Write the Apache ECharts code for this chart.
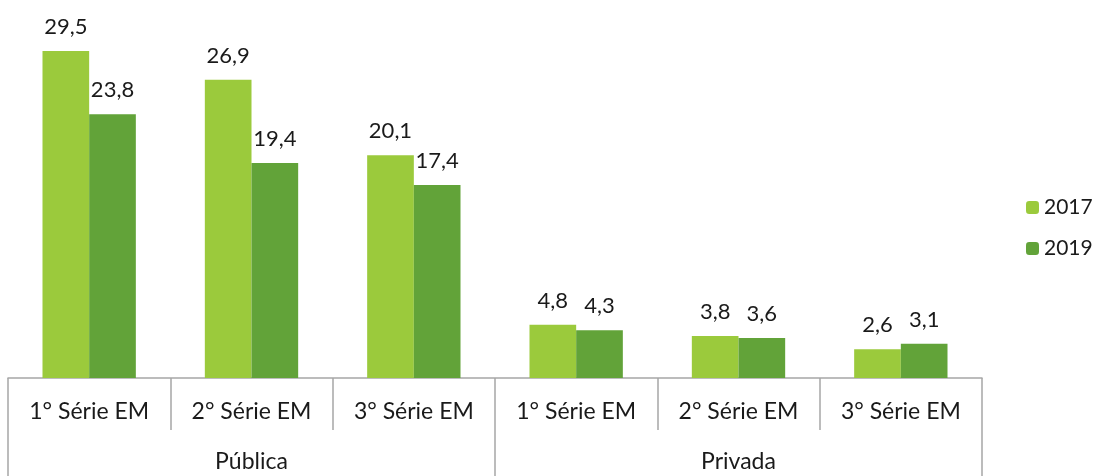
<!DOCTYPE html>
<html>
<head>
<meta charset="utf-8">
<script src="https://cdn.jsdelivr.net/npm/echarts@6/dist/echarts.min.js"></script>
<style>
  html, body { margin: 0; padding: 0; background: #fff; }
  #main { width: 1095px; height: 476px; }
</style>
</head>
<body>
<div id="main"></div>
<script>
// dados
var series = ['1° Série EM', '2° Série EM', '3° Série EM', '1° Série EM ', '2° Série EM ', '3° Série EM ']
var redes = ['Pública', 'Privada']
var v2017 = [29.5, 26.9, 20.1, 4.8, 3.8, 2.6]
var v2019 = [23.8, 19.4, 17.4, 4.3, 3.6, 3.1]

var fonte = 'Lato, "Open Sans", sans-serif'
var cinza = '#a6a6a6'
var texto = '#1a1a1a'

var labelOption = {
  show: true,
  position: 'top',
  distance: 13,
  fontFamily: fonte,
  fontSize: 22,
  color: texto,
  formatter: function(p) {
    return String(p.value).replace('.', ',')
  }
}

const myChart = echarts.init(document.getElementById('main'))
const option = {
  animation: false,
  legend: {
    data: ['2017', '2019'],
    orient: 'vertical',
    left: 1021,
    top: 192,
    itemWidth: 13,
    itemHeight: 13,
    itemGap: 20,
    textStyle: { fontFamily: fonte, fontSize: 21, color: texto }
  },
  grid: {
    left: 8,
    right: 113,
    top: 0,
    bottom: 98
  },
  xAxis: [
    {
      type: 'category',
      data: series,
      axisLine: { lineStyle: { color: cinza, width: 1.5 } },
      axisTick: { show: true, length: 52, interval: 0, lineStyle: { color: cinza, width: 1.5 } },
      axisLabel: {
        interval: 0,
        margin: 22,
        fontFamily: fonte,
        fontSize: 23,
        color: texto,
        formatter: function(v) { return v.trim() }
      }
    },
    {
      type: 'category',
      position: 'bottom',
      offset: 52,
      data: redes,
      axisLine: { show: false },
      axisTick: { show: true, length: 50, interval: 0, lineStyle: { color: cinza, width: 1.5 } },
      axisLabel: {
        interval: 0,
        margin: 20,
        fontFamily: fonte,
        fontSize: 23,
        color: texto
      }
    }
  ],
  yAxis: {
    type: 'value',
    min: 0,
    max: 34.1,
    show: false
  },
  series: [
    {
      name: '2017',
      type: 'bar',
      barGap: 0,
      barCategoryGap: '42.5%',
      itemStyle: { color: '#9bca3c' },
      label: labelOption,
      data: v2017
    },
    {
      name: '2019',
      type: 'bar',
      itemStyle: { color: '#62a339' },
      label: labelOption,
      data: v2019
    }
  ]
}
myChart.setOption(option)
</script>
</body>
</html>
